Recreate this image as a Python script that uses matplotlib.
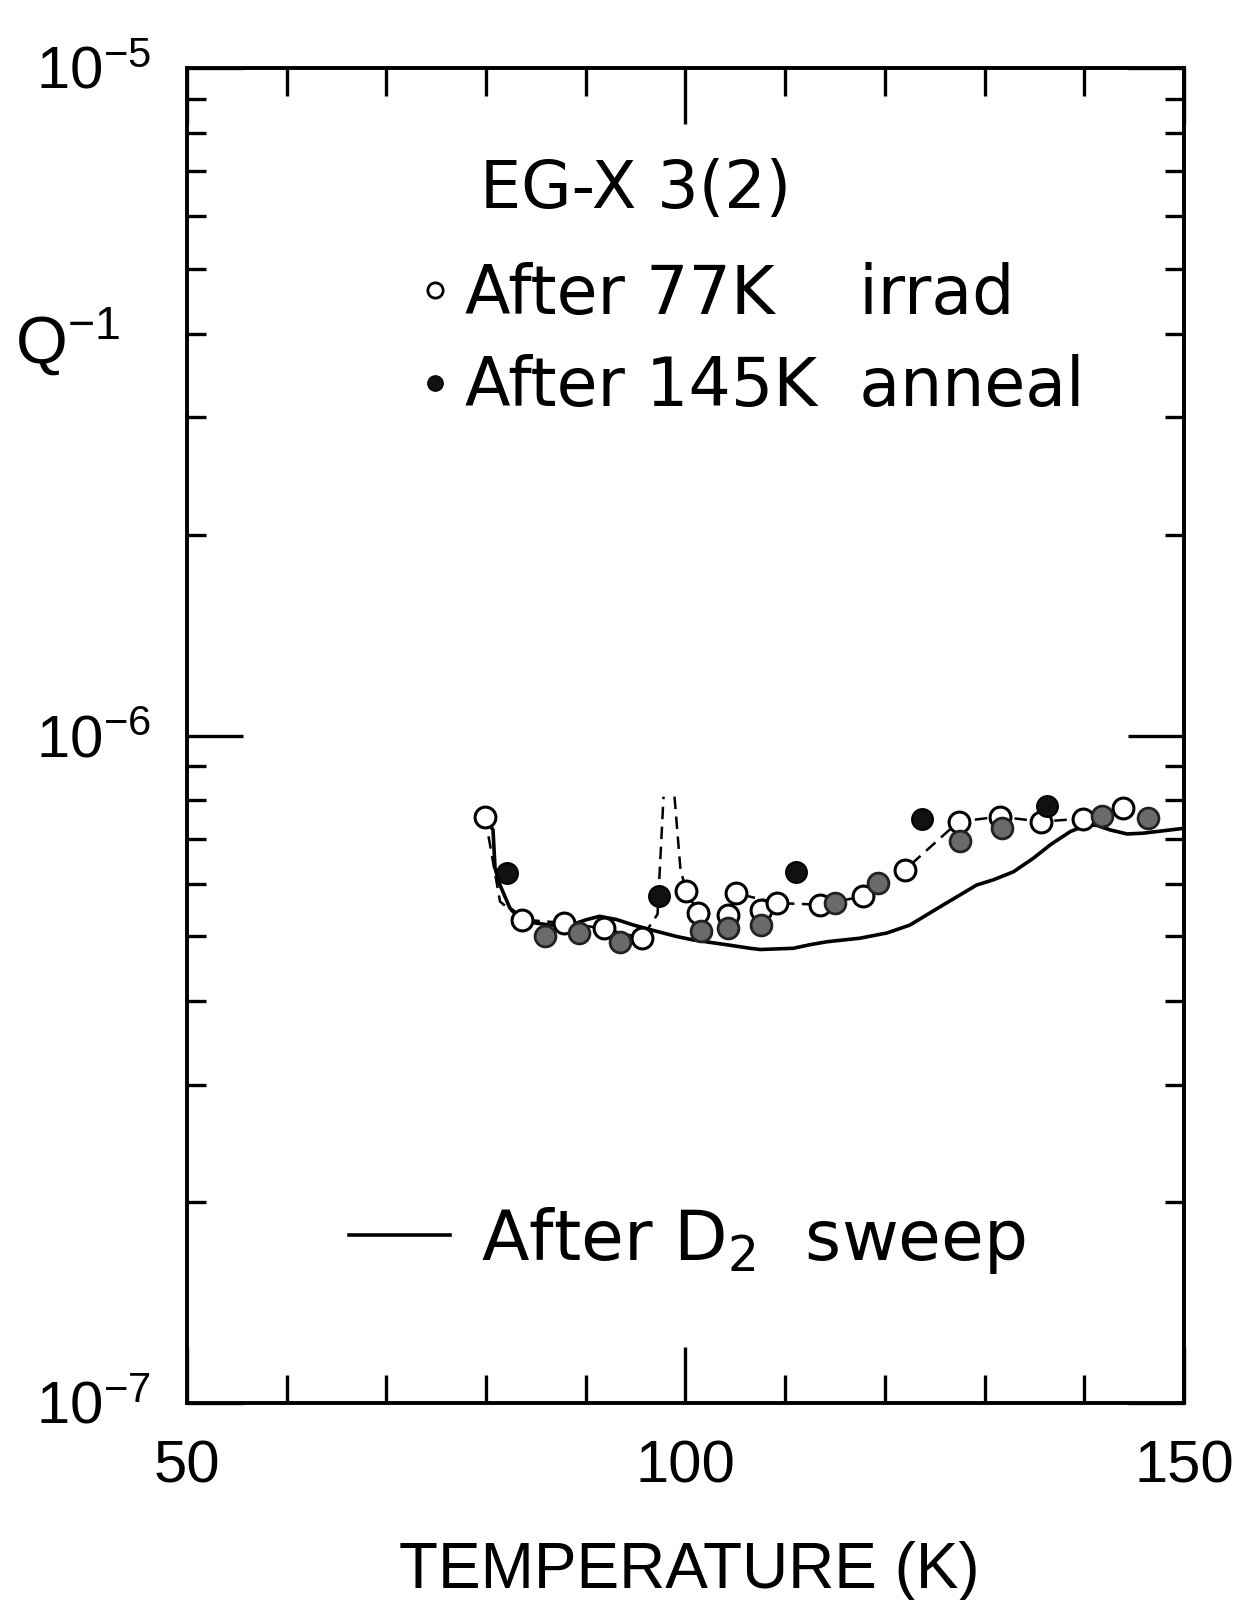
#
# Q^-1 vs temperature, EG-X 3(2)
#

import numpy as np
from matplotlib import pyplot as plt
from matplotlib.lines import Line2D
from matplotlib.ticker import LogLocator, NullFormatter, MultipleLocator

plt.rcParams['mathtext.default'] = 'regular'

narrow = ['Liberation Sans', 'DejaVu Sans']
plain = ['DejaVu Sans']

# open circles: after 77 K irradiation
irrad_T = [79.9, 83.6, 87.8, 91.8, 95.6, 100.1, 101.3, 104.3, 105.1, 107.6,
           109.2, 113.5, 117.8, 122.0, 127.4, 131.5, 135.7, 139.9, 143.9]
irrad_Q = np.array([7.56, 5.30, 5.24, 5.14, 4.97, 5.84, 5.42, 5.39, 5.80, 5.48,
                    5.61, 5.58, 5.74, 6.29, 7.43, 7.56, 7.43, 7.51, 7.78]) * 1e-7

# filled circles: after 145 K anneal (dark prints and grey prints)
anneal_dark_T = [82.1, 97.3, 111.1, 123.7, 136.3]
anneal_dark_Q = np.array([6.22, 5.74, 6.24, 7.51, 7.85]) * 1e-7
anneal_grey_T = [85.9, 89.3, 93.4, 101.6, 104.3, 107.6, 115.0, 119.3, 127.5,
                 131.7, 141.8, 146.4]
anneal_grey_Q = np.array([5.00, 5.06, 4.91, 5.09, 5.14, 5.20, 5.61, 6.01, 6.95,
                          7.26, 7.57, 7.53]) * 1e-7

# dashed guide through the irradiated points (with the spike near 98 K)
dash_T = [79.9, 81.4, 83.6, 87.8, 91.8, 95.6, 97.2, 97.8, np.nan, 98.9, 99.5,
          100.1, 101.3, 104.3, 105.1, 109.2, 113.5, 117.8, 122.0, 127.4, 131.5,
          135.7, 139.9, 143.9]
dash_Q = np.array([7.56, 5.64, 5.30, 5.24, 5.14, 4.97, 5.40, 8.10, np.nan, 8.10,
                   6.30, 5.84, 5.42, 5.39, 5.80, 5.61, 5.58, 5.74, 6.29, 7.43,
                   7.56, 7.43, 7.51, 7.78]) * 1e-7

# solid curve: after D2 sweep
sweep_T = [80.0, 80.7, 80.9, 81.4, 82.4, 84.1, 86.4, 88.8, 90.1, 91.4, 93.1,
           94.8, 97.1, 99.1, 100.8, 104.1, 106.5, 107.5, 110.8, 112.5, 114.2,
           117.5, 120.2, 122.5, 125.9, 129.2, 130.9, 132.9, 134.9, 136.6, 138.6,
           139.6, 140.6, 141.2, 142.6, 144.3, 145.9, 149.3, 150.0]
sweep_Q = np.array([7.50, 7.22, 6.33, 5.97, 5.51, 5.26, 5.20, 5.22, 5.30, 5.36,
                    5.30, 5.20, 5.09, 5.00, 4.94, 4.86, 4.80, 4.78, 4.80, 4.86,
                    4.91, 4.97, 5.06, 5.20, 5.58, 5.97, 6.08, 6.25, 6.55, 6.86,
                    7.18, 7.28, 7.34, 7.34, 7.22, 7.12, 7.14, 7.24, 7.26]) * 1e-7

x_ticks = [50, 100, 150]
y_ticks = [1e-7, 1e-6, 1e-5]
y_ticklabels = [r'$10^{-7}$', r'$10^{-6}$', r'$10^{-5}$']

fig = plt.figure(figsize=(12.43, 16), dpi=100)
ax = fig.add_axes([0.1504, 0.1231, 0.8021, 0.8344])

ax.plot(sweep_T, sweep_Q, '-', color='black', lw=2.6, zorder=2)
ax.plot(dash_T, dash_Q, color='black', lw=1.8, ls=(0, (5, 3)), zorder=1)

ms = 15
ax.plot(irrad_T, irrad_Q, 'o', ms=ms, mfc='white', mec='black', mew=2.2, zorder=3)
ax.plot(anneal_grey_T, anneal_grey_Q, 'o', ms=ms, mfc='#6a6a6a', mec='#222222',
        mew=2.0, zorder=4)
ax.plot(anneal_dark_T, anneal_dark_Q, 'o', ms=ms, mfc='#111111', mec='black',
        mew=1.5, zorder=4)

ax.set_xlim(50, 150)
ax.set_yscale('log')
ax.set_ylim(1e-7, 1e-5)

# ticks
ax.set_xticks(x_ticks)
ax.set_xticklabels([str(t) for t in x_ticks])
ax.xaxis.set_minor_locator(MultipleLocator(10))
ax.set_yticks(y_ticks)
ax.set_yticklabels(y_ticklabels)
ax.yaxis.set_minor_locator(LogLocator(base=10, subs=np.arange(2, 10)))
ax.yaxis.set_minor_formatter(NullFormatter())

ax.tick_params(which='both', direction='in', top=True, right=True, width=2.4,
               color='black')
ax.tick_params(axis='x', which='major', length=40, pad=26)
ax.tick_params(axis='x', which='minor', length=20)
ax.tick_params(axis='y', which='major', length=40, pad=26)
ax.tick_params(axis='y', which='minor', length=14)
for lbl in ax.get_xticklabels() + ax.get_yticklabels():
    lbl.set_fontfamily(narrow)
    lbl.set_fontsize(43)

for s in ax.spines.values():
    s.set_linewidth(2.8)

ax.set_xlabel('TEMPERATURE (K)', fontsize=46, family=narrow)
ax.xaxis.set_label_coords(0.5035, -0.103)
ax.set_ylabel(r'Q$^{-1}$', fontsize=48, family=narrow, rotation=0,
              ha='left', va='center')
ax.yaxis.set_label_coords(-0.172, 0.795)

# legends
ax.text(0.294, 0.9086, 'EG-X 3(2)', transform=ax.transAxes, fontsize=47,
        family=plain, va='center', ha='left')

h_irrad = Line2D([], [], marker='o', ls='none', ms=11, mfc='white', mec='black', mew=2)
h_anneal = Line2D([], [], marker='o', ls='none', ms=11, mfc='#111111', mec='black')
leg1 = ax.legend([h_irrad, h_anneal], ['After 77K    irrad', 'After 145K  anneal'],
                 loc='upper left', bbox_to_anchor=(0.235, 0.855), frameon=False,
                 handlelength=0.4, handletextpad=0.25, labelspacing=0.4,
                 borderpad=0, borderaxespad=0, prop={'family': plain, 'size': 48})
ax.add_artist(leg1)

h_sweep = Line2D([], [], color='black', lw=2.6)
ax.legend([h_sweep], [r'After D$_2$  sweep'], loc='center left',
          bbox_to_anchor=(0.163, 0.122), frameon=False, handlelength=1.45,
          handletextpad=0.45, borderpad=0, borderaxespad=0,
          prop={'family': plain, 'size': 50})

plt.savefig('out.png', dpi=100)
